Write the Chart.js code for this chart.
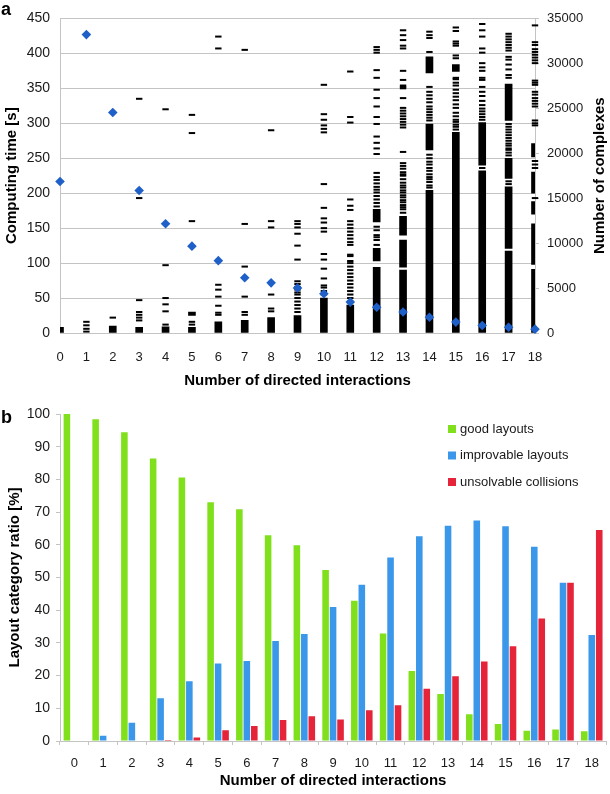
<!DOCTYPE html>
<html><head><meta charset="utf-8">
<script src="https://cdn.jsdelivr.net/npm/chart.js@4.4.1/dist/chart.umd.min.js"></script>
<style>
html,body{margin:0;padding:0;background:#fff;}
#wrap{position:relative;width:610px;height:794px;overflow:hidden;}
canvas{display:block;}
.lbl{position:absolute;font:bold 18px "Liberation Sans",Arial,sans-serif;line-height:18px;color:#000;}
</style></head><body>
<div id="wrap">
<div style="position:absolute;left:0;top:0;width:610px;height:392px"><canvas id="ca" width="610" height="392"></canvas></div>
<div style="position:absolute;left:0;top:392px;width:610px;height:402px"><canvas id="cb" width="610" height="402"></canvas></div>
<div class="lbl" style="left:1px;top:0px">a</div>
<div class="lbl" style="left:1px;top:408px">b</div>
</div>
<script>
// ---------- DATA ----------
const interactions = [0,1,2,3,4,5,6,7,8,9,10,11,12,13,14,15,16,17,18];
const interactionLabels = interactions.map(String);
// Panel a: number of complexes per number of directed interactions (right axis)
const complexes = [16860,33200,24530,15860,12160,9660,8050,6150,5580,5010,4370,3440,2870,2330,1750,1210,830,640,430];
// Panel a: computing time [s] — densely packed ranges (drawn as solid columns)
const timeBlocks = [
  [[0,8]], [], [[0,10]], [[0,8]], [[0,9]], [[0,8],[25,30]], [[0,16]], [[0,18]], [[0,22]], [[0,25]],
  [[0,50]], [[0,40]], [[0,94],[103,121],[159,177]], [[0,90],[94,133],[140,167]],
  [[0,204],[262,299],[372,395]], [[0,287],[374,384]], [[0,232],[240,301]],
  [[0,117],[121,209],[221,250],[304,356]], [[0,91],[98,156],[170,188],[200,230],[252,271]]
];
// Panel a: computing time [s] — individual complexes (drawn as dashes)
const timeDashes = [
  [],
  [2,6,11,16],
  [22],
  [18,22,26,30,47,193,335],
  [12,31,41,50,97,320],
  [12,16,160,286,312],
  [26,29,39,52,62,69,407,424],
  [26,30,52,95,156,405],
  [31,35,55,151,160,290],
  [30,35,40,45,50,55,58,62,66,70,74,105,125,142,151,156,160],
  [55,60,65,68,78,92,105,113,145,150,158,164,179,213,287,292,297,305,313,355],
  [45,50,55,60,65,70,75,80,85,90,95,100,103,110,112,126,130,135,140,145,150,155,160,176,182,191,301,309,374],
  [126,133,137,140,147,152,181,186,191,196,201,205,209,214,219,223,229,256,264,272,281,299,309,324,336,348,365,376,401,405,409],
  [172,177,180,183,187,190,194,197,201,204,208,211,215,220,225,227,230,235,239,243,259,294,298,302,306,310,314,318,322,336,350,352,354,362,375,407,411,419,426,433],
  [208,211,216,220,223,227,232,236,241,245,250,255,304,308,312,316,320,324,330,335,340,345,352,402,422,426,431],
  [291,295,298,302,305,310,315,322,327,333,338,343,348,354,358,363,365,393,397,411,414,417,432,437],
  [236,305,309,313,317,321,326,332,339,345,352,362,365,375,380,386,401,407,424,433,442],
  [213,217,254,258,262,264,268,271,275,279,283,287,291,295,299,365,369,377,384,391,395,404,408,412,416,420,424,428],
  [193,236,241,246,297,300,304,324,328,332,336,341,345,355,358,361,386,390,394,398,402,406,412,416,440]
];
// Panel b: layout category ratio [%]
const goodLayouts = [100,98.4,94.4,86.4,80.6,73.0,70.9,62.9,59.9,52.3,42.9,32.9,21.4,14.4,8.2,5.2,3.1,3.5,3.0];
const improvableLayouts = [0,1.6,5.6,13.1,18.3,23.7,24.5,30.6,32.7,41.0,47.8,56.1,62.6,65.8,67.4,65.7,59.4,48.4,32.4];
const unsolvableCollisions = [0,0,0,0.3,1.1,3.3,4.6,6.4,7.6,6.6,9.4,10.9,16.0,19.8,24.3,29.0,37.5,48.4,64.5];

// ---------- STYLE ----------
Chart.defaults.font.family = '"Liberation Sans", Arial, sans-serif';
Chart.defaults.color = '#1a1a1a';
const GRID = '#c4c4c4';

const blockPts = [];
timeBlocks.forEach((list, i) => list.forEach(r => blockPts.push({x: interactions[i], y: r})));
const dashPts = [];
timeDashes.forEach((list, i) => list.forEach(v => dashPts.push({x: interactions[i], y: v})));

const rightTitle = {
  id: 'rightTitle',
  afterDraw(c) {
    const {ctx, chartArea} = c;
    ctx.save();
    ctx.translate(600, (chartArea.top + chartArea.bottom) / 2);
    ctx.rotate(-Math.PI / 2);
    ctx.font = 'bold 15px "Liberation Sans", Arial, sans-serif';
    ctx.fillStyle = '#000';
    ctx.textAlign = 'center';
    ctx.textBaseline = 'middle';
    ctx.fillText('Number of complexes', 0, 0);
    ctx.restore();
  }
};

new Chart(document.getElementById('ca'), {
  type: 'scatter',
  data: {
    datasets: [
      {type: 'scatter', label: 'Number of complexes', data: interactions.map((x, i) => ({x, y: complexes[i]})),
       yAxisID: 'y2', pointStyle: 'rectRot', pointRadius: 4.8, backgroundColor: '#1f5fc8', borderColor: '#1f5fc8',
       borderWidth: 0, order: 0, clip: false},
      {type: 'scatter', label: 'Computing time', data: dashPts, yAxisID: 'y', pointStyle: 'line', pointRadius: 3.2,
       borderColor: '#000', borderWidth: 2, order: 1, clip: false},
      {type: 'bar', label: 'Computing time (dense)', data: blockPts, yAxisID: 'y', backgroundColor: '#000',
       barThickness: 7, grouped: false, order: 2}
    ]
  },
  options: {
    responsive: false, animation: false, devicePixelRatio: 1,
    layout: {autoPadding: false, padding: {top: 7, left: 0, right: 0, bottom: 0}},
    plugins: {legend: {display: false}, tooltip: {enabled: false}},
    scales: {
      x: {type: 'linear', min: 0, max: 18, offset: false,
          ticks: {stepSize: 1, autoSkip: false, maxRotation: 0, padding: 9, font: {size: 13}},
          grid: {display: false, offset: false}, border: {display: true, color: GRID},
          title: {display: true, text: 'Number of directed interactions', color: '#000', font: {size: 15, weight: 'bold'}, padding: {top: 0, bottom: 2}},
          afterFit(s) { s.height = 59; }},
      y: {type: 'linear', position: 'left', min: 0, max: 450,
          ticks: {stepSize: 50, padding: 10, font: {size: 14}},
          grid: {color: GRID, drawTicks: false}, border: {display: true, color: GRID},
          title: {display: true, text: 'Computing time [s]', color: '#000', font: {size: 15, weight: 'bold'}, padding: {top: 3, bottom: 0}},
          afterFit(s) { s.width = 60; }},
      y2: {type: 'linear', position: 'right', min: 0, max: 35000,
          ticks: {stepSize: 5000, padding: 8, font: {size: 13}, callback: v => String(v)},
          grid: {drawOnChartArea: false, tickLength: 4, color: GRID}, border: {display: true, color: GRID},
          afterFit(s) { s.width = 75; }}
    }
  },
  plugins: [rightTitle]
});

const legendB = {
  id: 'legendB',
  afterDraw(c) {
    const {ctx} = c;
    ctx.save();
    ctx.font = '13px "Liberation Sans", Arial, sans-serif';
    ctx.textBaseline = 'middle';
    ctx.textAlign = 'left';
    c.data.datasets.forEach((ds, i) => {
      const y = 37 + i * 26.5;
      ctx.fillStyle = ds.backgroundColor;
      ctx.fillRect(448, y - 4, 8, 8);
      ctx.fillStyle = '#1a1a1a';
      ctx.fillText(ds.label, 460, y);
    });
    ctx.restore();
  }
};

new Chart(document.getElementById('cb'), {
  type: 'bar',
  data: {
    labels: interactionLabels,
    datasets: [
      {label: 'good layouts', data: goodLayouts, backgroundColor: '#80e01c'},
      {label: 'improvable layouts', data: improvableLayouts, backgroundColor: '#3a97ea'},
      {label: 'unsolvable collisions', data: unsolvableCollisions, backgroundColor: '#e52339'}
    ]
  },
  options: {
    responsive: false, animation: false, devicePixelRatio: 1,
    categoryPercentage: 0.78, barPercentage: 0.88,
    layout: {autoPadding: false, padding: {top: 22, left: 0, right: 0, bottom: 0}},
    plugins: {legend: {display: false}, tooltip: {enabled: false}},
    scales: {
      x: {ticks: {padding: 11, font: {size: 13}, maxRotation: 0, autoSkip: false},
          grid: {display: true, drawOnChartArea: false, tickLength: 4, color: GRID, offset: true},
          border: {display: true, color: GRID},
          title: {display: true, text: 'Number of directed interactions', color: '#000', font: {size: 15, weight: 'bold'}, padding: {top: 0, bottom: 4}},
          afterFit(s) { s.height = 53; }},
      y: {min: 0, max: 100,
          ticks: {stepSize: 10, padding: 6, font: {size: 14}},
          grid: {display: true, drawOnChartArea: false, tickLength: 4, color: GRID},
          border: {display: true, color: GRID},
          title: {display: true, text: 'Layout category ratio [%]', color: '#000', font: {size: 15, weight: 'bold'}, padding: {top: 6, bottom: 0}},
          afterFit(s) { s.width = 60; }}
    }
  },
  plugins: [legendB]
});
</script>
</body></html>
